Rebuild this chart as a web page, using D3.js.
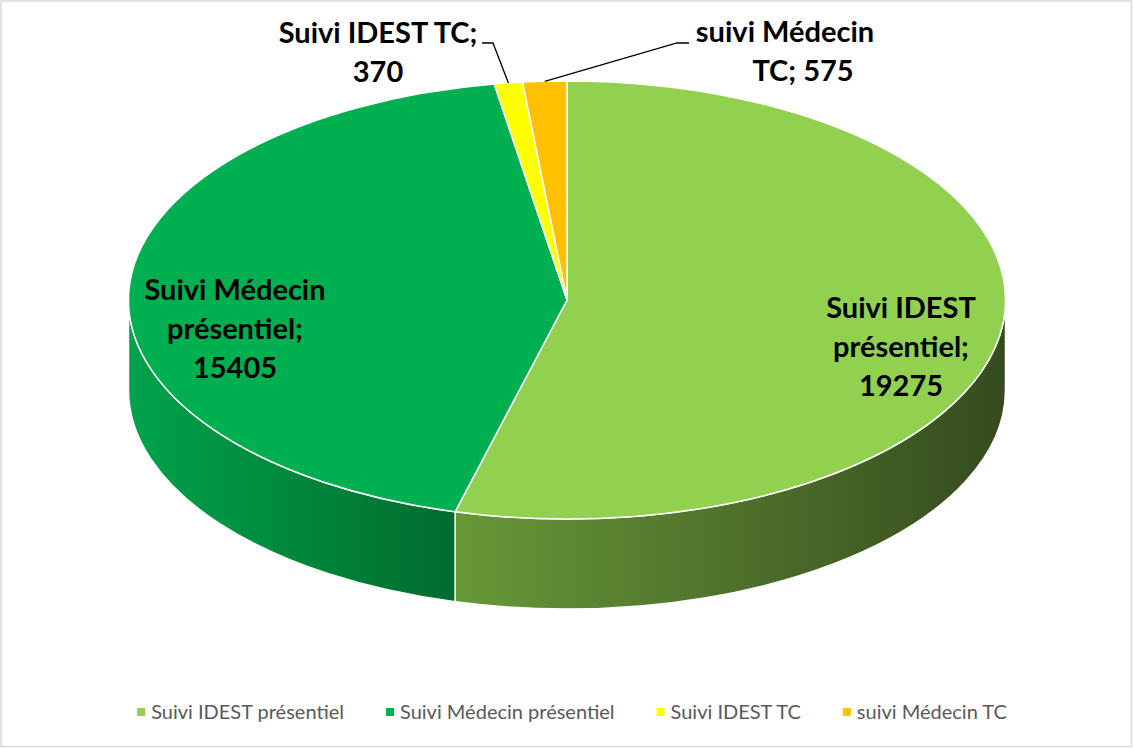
<!DOCTYPE html>
<html>
<head>
<meta charset="utf-8">
<script src="https://cdn.jsdelivr.net/npm/d3@7"></script>
<style>
  body { margin: 0; background: #fff; }
  svg { display: block; }
</style>
</head>
<body>
<div id="chart"></div>
<script>
// data
var categories = ["Suivi IDEST présentiel", "Suivi Médecin présentiel", "Suivi IDEST TC", "suivi Médecin TC"];
var values = [19275, 15405, 370, 575];
var colors = ["#92D050", "#00B050", "#FFFF00", "#FFC000"];
// side wall gradient (left -> right) for slices whose side shows
var sideColors = [["#689838", "#354B1E"], ["#00A34B", "#006C2E"], ["#D9D900", "#B0B000"], ["#D9A300", "#B08400"]];

// label layout: words per line, line centres, first baseline, leader elbow
var labelWords = [[2, 1, 1], [2, 1, 1], [3, 1], [2, 2]];
var labelX = [[901, 901, 901], [235, 235, 235], [378, 378], [785, 803]];
var labelY = [318, 300, 43, 42];
var leaderPts = [null, null, [[482, 43], [493, 43]], [[689, 43], [677, 43]]];

var W = 1133, H = 748;
var cfg = {cx: 567, cy: 300, rx: 438.5, ry: 219, depth: 90, lineH: 39};

var svg = d3.select("#chart").append("svg").attr("width", W).attr("height", H);

svg.append("rect")
	.attr("x", 1).attr("y", 1).attr("width", W - 2.5).attr("height", H - 2.5)
	.style("fill", "#fff").style("stroke", "#d9d9d9").style("stroke-width", 1.5);

var pie = d3.pie().sort(null).value(function(d){ return d; });
var arcs = pie(values);

function pt(a, dy){
	return [cfg.cx + cfg.rx*Math.sin(a), cfg.cy - cfg.ry*Math.cos(a) + (dy || 0)];
}

var defs = svg.append("defs");
sideColors.forEach(function(c, i){
	var g = defs.append("linearGradient").attr("id", "side" + i)
		.attr("x1", 0).attr("x2", 1).attr("y1", 0).attr("y2", 0);
	g.append("stop").attr("offset", 0).attr("stop-color", c[0]);
	g.append("stop").attr("offset", 1).attr("stop-color", c[1]);
});

// side walls: only the front half (pi/2 .. 3pi/2) shows
var sides = arcs.map(function(d, i){
	var a0 = Math.max(d.startAngle, Math.PI/2), a1 = Math.min(d.endAngle, 3*Math.PI/2);
	return {i: i, a0: a0, a1: a1};
}).filter(function(s){ return s.a1 > s.a0; });

svg.selectAll("path.side")
	.data(sides).enter()
	.append("path")
	.attr("class", "side")
	.attr("d", function(s){
		var p0 = pt(s.a0), p1 = pt(s.a1), q1 = pt(s.a1, cfg.depth), q0 = pt(s.a0, cfg.depth);
		var big = (s.a1 - s.a0) > Math.PI ? 1 : 0;
		return "M" + p0 + "A" + cfg.rx + "," + cfg.ry + " 0 " + big + " 1 " + p1 +
			"L" + q1 + "A" + cfg.rx + "," + cfg.ry + " 0 " + big + " 0 " + q0 + "Z";
	})
	.style("fill", function(s){ return "url(#side" + s.i + ")"; })
	.style("stroke", "#fff")
	.style("stroke-width", 1.5);

// top faces
svg.selectAll("path.top")
	.data(arcs).enter()
	.append("path")
	.attr("class", "top")
	.attr("d", function(d){
		var p0 = pt(d.startAngle), p1 = pt(d.endAngle);
		var big = (d.endAngle - d.startAngle) > Math.PI ? 1 : 0;
		return "M" + cfg.cx + "," + cfg.cy + "L" + p0 +
			"A" + cfg.rx + "," + cfg.ry + " 0 " + big + " 1 " + p1 + "Z";
	})
	.style("fill", function(d, i){ return colors[i]; })
	.style("stroke", "#fff")
	.style("stroke-width", 1.5)
	.style("stroke-linejoin", "round");

// leader lines for the small slices
arcs.forEach(function(d, i){
	if(!leaderPts[i]) return;
	var mid = (d.startAngle + d.endAngle)/2;
	var pts = leaderPts[i].concat([pt(mid)]);
	svg.append("polyline")
		.attr("points", pts.map(function(p){ return p.join(","); }).join(" "))
		.style("fill", "none").style("stroke", "#000").style("stroke-width", 1.3);
});

// data labels
var font = "Lato, 'Open Sans', sans-serif";
categories.forEach(function(c, i){
	var words = (c + "; " + values[i]).split(" ");
	var lines = [], k = 0;
	labelWords[i].forEach(function(n){ lines.push(words.slice(k, k + n).join(" ")); k += n; });
	var t = svg.append("text")
		.style("font-family", font).style("font-weight", "bold")
		.style("font-size", "29px").style("fill", "#000")
		.attr("text-anchor", "middle");
	lines.forEach(function(l, j){
		t.append("tspan").attr("x", labelX[i][j]).attr("y", labelY[i] + j*cfg.lineH).text(l);
	});
});

// legend
var legend = svg.append("g").attr("class", "legend");
var items = legend.selectAll("g").data(categories).enter().append("g");
items.append("rect").attr("width", 8).attr("height", 8).attr("y", -4)
	.style("fill", function(d, i){ return colors[i]; });
items.append("text").attr("x", 14).attr("dy", "0.35em")
	.style("font-family", font).style("font-size", "20px").style("fill", "#595959")
	.text(function(d){ return d; });
var gap = 42, xPos = 0;
items.each(function(){
	var w = this.getBBox().width;
	d3.select(this).attr("transform", "translate(" + xPos + ",0)");
	xPos += w + gap;
});
xPos -= gap;
legend.attr("transform", "translate(" + (572 - xPos/2) + ",712)");
</script>
</body>
</html>
